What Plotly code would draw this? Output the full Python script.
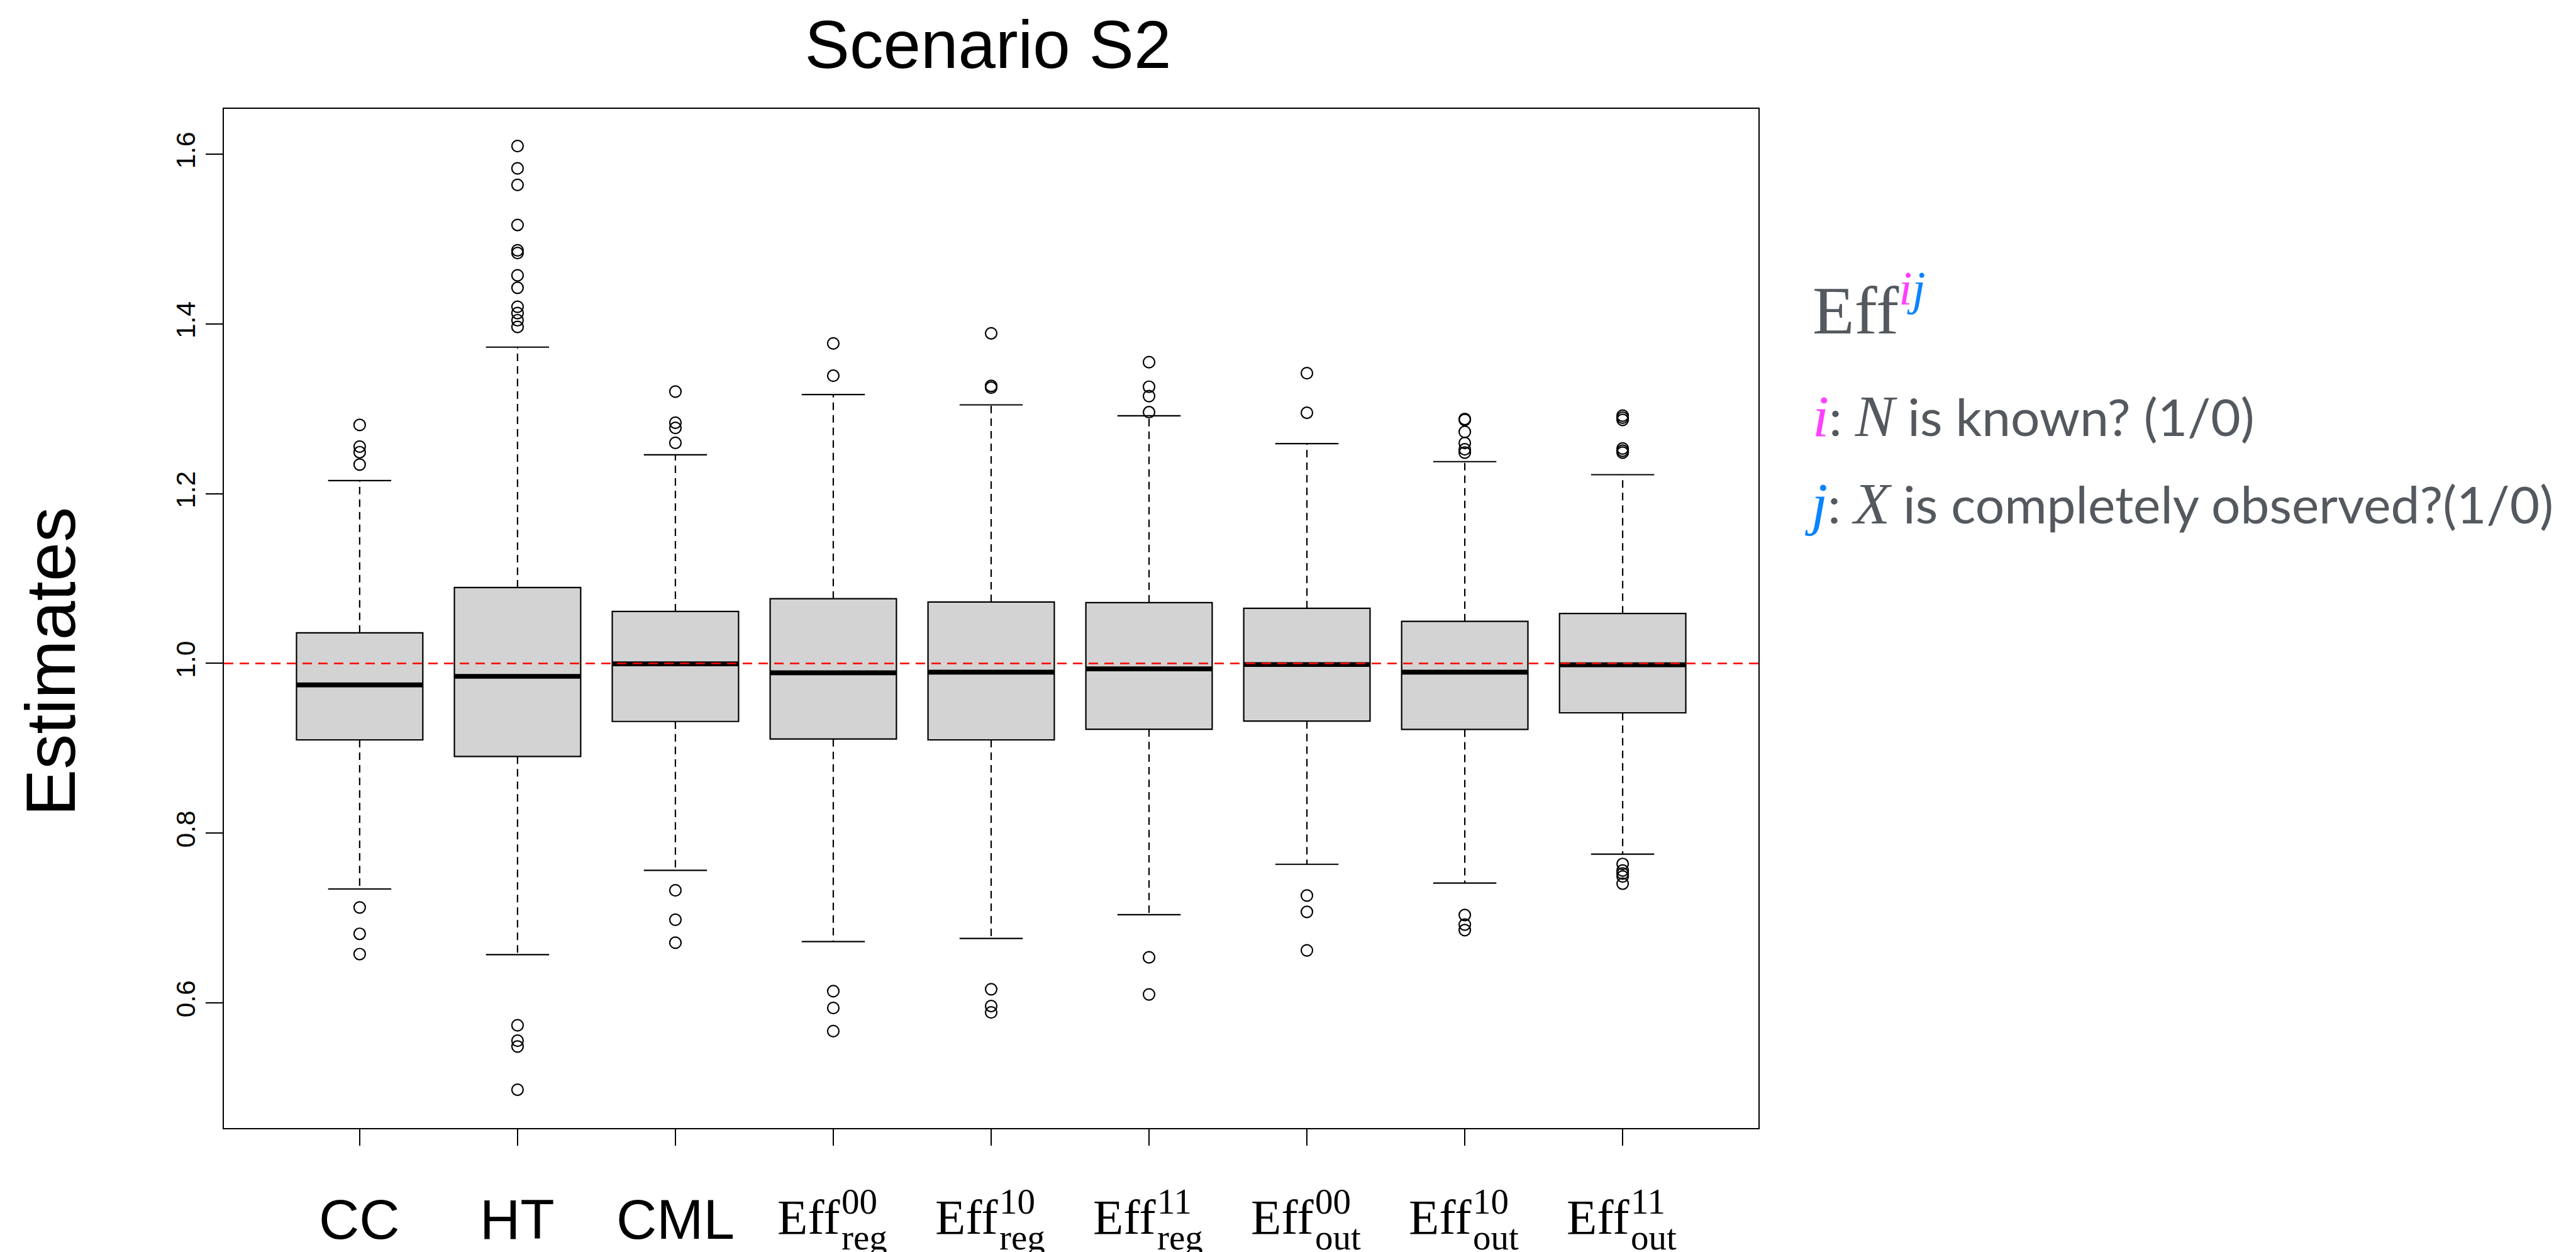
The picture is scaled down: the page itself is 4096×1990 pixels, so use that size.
import plotly.graph_objects as go

# ---------------- data ----------------
categories = ["CC", "HT", "CML", "Eff00reg", "Eff10reg", "Eff11reg", "Eff00out", "Eff10out", "Eff11out"]
label_main = ["CC", "HT", "CML", "Eff", "Eff", "Eff", "Eff", "Eff", "Eff"]
label_sup = ["", "", "", "00", "10", "11", "00", "10", "11"]
label_sub = ["", "", "", "reg", "reg", "reg", "out", "out", "out"]

q1 = [0.9099, 0.8904, 0.9316, 0.9109, 0.9099, 0.9225, 0.9320, 0.9222, 0.9418]
median = [0.9747, 0.9848, 0.9995, 0.9890, 0.9897, 0.9936, 0.9987, 0.9897, 0.9984]
q3 = [1.0361, 1.0894, 1.0612, 1.0762, 1.0723, 1.0717, 1.0649, 1.0495, 1.0588]
whisker_low = [0.7342, 0.6568, 0.7562, 0.6722, 0.6759, 0.7039, 0.7633, 0.7412, 0.7753]
whisker_high = [1.2154, 1.3727, 1.2458, 1.3169, 1.3047, 1.2918, 1.2590, 1.2378, 1.2224]

outliers_cc = [1.2810, 1.2555, 1.2489, 1.2344, 0.7125, 0.6814, 0.6575]
outliers_ht = [1.6097, 1.5833, 1.5639, 1.5167, 1.4868, 1.4837, 1.4573, 1.4427, 1.4203,
               1.4128, 1.4044, 1.3965, 0.5736, 0.5555, 0.5486, 0.4977]
outliers_cml = [1.3203, 1.2837, 1.2775, 1.2599, 0.7327, 0.6980, 0.6709]
outliers_reg00 = [1.3770, 1.3390, 0.6138, 0.5940, 0.5667]
outliers_reg10 = [1.3890, 1.3270, 1.3250, 0.6161, 0.5963, 0.5888]
outliers_reg11 = [1.3550, 1.3260, 1.3150, 1.2960, 0.6537, 0.6100]
outliers_out00 = [1.3420, 1.2954, 0.7265, 0.7073, 0.6619]
outliers_out10 = [1.2880, 1.2870, 1.2729, 1.2597, 1.2523, 1.2484, 0.7036, 0.6923, 0.6858]
outliers_out11 = [1.2920, 1.2896, 1.2870, 1.2533, 1.2507, 1.2484, 0.7637, 0.7560, 0.7524, 0.7490, 0.7405]
outliers = [outliers_cc, outliers_ht, outliers_cml, outliers_reg00, outliers_reg10,
            outliers_reg11, outliers_out00, outliers_out10, outliers_out11]

y_tick_values = [0.6, 0.8, 1.0, 1.2, 1.4, 1.6]
y_tick_labels = ["0.6", "0.8", "1.0", "1.2", "1.4", "1.6"]
reference_value = 1.0

# ---------------- layout constants ----------------
W, H = 4096, 1990
L, R, T, B = 348, 2788, 165, 1785          # plot area in pixels
PW, PH = R - L, B - T
X_RANGE = [0.14, 9.86]
Y_RANGE = [0.4525, 1.6535]
BOX_W = 0.8
CAP_W = 0.4
LW = 2.2
SANS = "Liberation Sans, Arial, sans-serif"
SERIF = "Liberation Serif, Times New Roman, serif"
LEG_SANS = "Lato, Noto Sans, sans-serif"
GRAY = "#54595f"
MAGENTA = "#ff40ff"
BLUE = "#0a84ff"

def px_x(p):
    return (p - L) / PW

def px_y(p):
    return (B - p) / PH

pos = list(range(1, len(categories) + 1))

fig = go.Figure()

# boxes (quartiles only; whiskers drawn separately, dashed like R)
fig.add_trace(go.Box(
    x=pos, q1=q1, median=median, q3=q3, lowerfence=q1, upperfence=q3,
    width=BOX_W, whiskerwidth=0, fillcolor="#d3d3d3",
    line=dict(color="black", width=LW), boxpoints=False, hoverinfo="skip",
))

# dashed whiskers
wx, wy = [], []
for p, a, b, lo, hi in zip(pos, q1, q3, whisker_low, whisker_high):
    wx += [p, p, None, p, p, None]
    wy += [b, hi, None, a, lo, None]
fig.add_trace(go.Scatter(x=wx, y=wy, mode="lines",
                         line=dict(color="black", width=LW, dash="12px,8px"),
                         hoverinfo="skip"))

# staples
sx, sy = [], []
for p, lo, hi in zip(pos, whisker_low, whisker_high):
    sx += [p - CAP_W / 2, p + CAP_W / 2, None, p - CAP_W / 2, p + CAP_W / 2, None]
    sy += [hi, hi, None, lo, lo, None]
fig.add_trace(go.Scatter(x=sx, y=sy, mode="lines",
                         line=dict(color="black", width=LW), hoverinfo="skip"))

# thick medians
mx, my = [], []
for p, m in zip(pos, median):
    mx += [p - BOX_W / 2, p + BOX_W / 2, None]
    my += [m, m, None]
fig.add_trace(go.Scatter(x=mx, y=my, mode="lines",
                         line=dict(color="black", width=7.7), hoverinfo="skip"))

# outliers
ox, oy = [], []
for p, vals in zip(pos, outliers):
    ox += [p] * len(vals)
    oy += vals
fig.add_trace(go.Scatter(x=ox, y=oy, mode="markers",
                         marker=dict(symbol="circle-open", size=18, color="black",
                                     line=dict(width=2.2, color="black")),
                         hoverinfo="skip"))

# reference line
fig.add_shape(type="line", xref="paper", x0=0, x1=1, yref="y",
              y0=reference_value, y1=reference_value, layer="above",
              line=dict(color="#ff0000", width=2.4, dash="15px,10px"))

annotations = []
# x labels
for p, main, sup, sub in zip(pos, label_main, label_sup, label_sub):
    if not sup:
        annotations.append(dict(x=p, xref="x", y=0, yref="paper", yshift=-145,
                                text=main, showarrow=False, xanchor="center", yanchor="middle",
                                font=dict(family=SANS, size=89, color="black"), borderpad=0))
    else:
        annotations.append(dict(x=p, xref="x", xshift=12, y=0, yref="paper", yshift=-141,
                                text=main, showarrow=False, xanchor="right", yanchor="middle",
                                font=dict(family=SERIF, size=79, color="black"), borderpad=0))
        annotations.append(dict(x=p, xref="x", xshift=12, y=0, yref="paper", yshift=-116,
                                text=sup, showarrow=False, xanchor="left", yanchor="middle",
                                font=dict(family=SERIF, size=57, color="black"), borderpad=0))
        annotations.append(dict(x=p, xref="x", xshift=12, y=0, yref="paper", yshift=-173,
                                text=sub, showarrow=False, xanchor="left", yanchor="middle",
                                font=dict(family=SERIF, size=57, color="black"), borderpad=0))

# y axis title
annotations.append(dict(x=px_x(71.5), xref="paper", y=px_y(1044), yref="paper",
                        text="Estimates", textangle=-90, showarrow=False,
                        xanchor="center", yanchor="middle",
                        font=dict(family=SANS, size=112, color="black")))

# side note
annotations.append(dict(
    x=px_x(2873), xref="paper", y=px_y(547), yref="paper", xanchor="left", yanchor="bottom",
    showarrow=False, borderpad=0,
    text=("Eff<sup><span style='color:%s'><i>i</i></span>"
          "<span style='color:%s'><i>j</i></span></sup>") % (MAGENTA, BLUE),
    font=dict(family=SERIF, size=109, color=GRAY)))
annotations.append(dict(
    x=px_x(2873), xref="paper", y=px_y(706), yref="paper", xanchor="left", yanchor="bottom",
    showarrow=False, borderpad=0,
    text=("<span style='font-family:Liberation Serif;font-size:94px;color:%s'><i>i</i></span>: "
          "<span style='font-family:Liberation Serif;font-size:94px'><i>N</i></span>"
          " is known? (1/0)") % MAGENTA,
    font=dict(family=LEG_SANS, size=82, color=GRAY)))
annotations.append(dict(
    x=px_x(2860), xref="paper", y=px_y(845), yref="paper", xanchor="left", yanchor="bottom",
    showarrow=False, borderpad=0,
    text=("<span style='font-family:Liberation Serif;font-size:94px;color:%s'><i>j</i></span>: "
          "<span style='font-family:Liberation Serif;font-size:94px'><i>X</i></span>"
          " is completely observed?(1/0)") % BLUE,
    font=dict(family=LEG_SANS, size=82, color=GRAY)))

fig.update_layout(
    width=W, height=H, autosize=False,
    margin=dict(l=L, r=W - R, t=T, b=H - B, pad=0),
    paper_bgcolor="white", plot_bgcolor="white",
    showlegend=False,
    title=dict(text="Scenario S2", x=1563 / W, xref="container", xanchor="center",
               y=1 - 63 / H, yref="container", yanchor="middle",
               font=dict(family=SANS, size=107, color="black")),
    xaxis=dict(range=X_RANGE, tickvals=pos, showticklabels=False,
               ticks="outside", ticklen=26, tickwidth=LW, tickcolor="black",
               showline=True, linecolor="black", linewidth=LW, mirror=True,
               showgrid=False, zeroline=False),
    yaxis=dict(range=Y_RANGE, tickvals=y_tick_values, ticktext=y_tick_labels,
               tickangle=-90, ticks="outside", ticklen=27, tickwidth=LW, tickcolor="black",
               tickfont=dict(family=SANS, size=42.5, color="black"),
               showline=True, linecolor="black", linewidth=LW, mirror=True,
               showgrid=False, zeroline=False),
    annotations=annotations,
)

fig.write_html("out.html")
